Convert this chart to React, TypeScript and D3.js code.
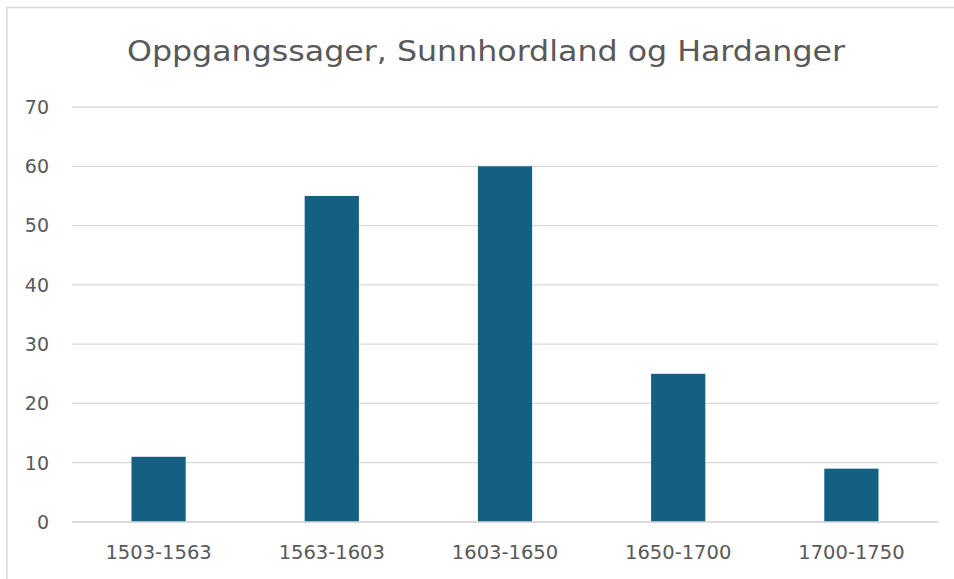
import { useEffect, useRef } from 'react';
import * as d3 from 'd3';

const title = 'Oppgangssager, Sunnhordland og Hardanger';
const categories = ['1503-1563', '1563-1603', '1603-1650', '1650-1700', '1700-1750'];
const values = [11, 55, 60, 25, 9];
const yTicks = [0, 10, 20, 30, 40, 50, 60, 70];

const W = 954;
const H = 579;
const FONT = '"DejaVu Sans", "Noto Sans", sans-serif';

export default function App() {
  const svgRef = useRef<SVGSVGElement>(null);

  useEffect(() => {
    document.body.style.margin = '0';
    if (!svgRef.current) return;
    const svg = d3.select(svgRef.current);
    svg.selectAll('*').remove();

    svg.append('rect').attr('width', W).attr('height', H).attr('fill', '#fff');

    // chart frame (right/bottom edges fall outside the picture)
    svg.append('rect')
      .attr('x', 7).attr('y', 7.5)
      .attr('width', W + 10).attr('height', H + 10)
      .attr('fill', 'none').attr('stroke', '#d9d9d9').attr('stroke-width', 1.5);

    const x = d3.scaleBand<string>().domain(categories).range([72, 938]).paddingInner(0.687).paddingOuter(0.3435);
    const y = d3.scaleLinear().domain([0, 70]).range([522, 107]);

    const t = svg.append('text')
      .attr('x', 486).attr('y', 61)
      .attr('text-anchor', 'middle')
      .attr('font-family', FONT).attr('font-size', 28)
      .attr('fill', '#595959')
      .text(title);
    // fit to the width of the reference title
    t.attr('textLength', 718).attr('lengthAdjust', 'spacingAndGlyphs');

    const grid = svg.append('g');
    grid.selectAll('line')
      .data(yTicks)
      .enter()
      .append('line')
      .attr('x1', 72).attr('x2', 938)
      .attr('y1', (d) => y(d)).attr('y2', (d) => y(d))
      .attr('stroke', '#d9d9d9').attr('stroke-width', 1.3);

    grid.selectAll('text')
      .data(yTicks)
      .enter()
      .append('text')
      .attr('x', 49).attr('y', (d) => y(d))
      .attr('dy', '0.36em')
      .attr('text-anchor', 'end')
      .attr('font-family', FONT).attr('font-size', 19)
      .attr('fill', '#595959')
      .text((d) => d);

    svg.append('g').selectAll('rect')
      .data(values)
      .enter()
      .append('rect')
      .attr('x', (_, i) => x(categories[i]) ?? 0)
      .attr('width', x.bandwidth())
      .attr('y', (d) => y(d))
      .attr('height', (d) => y(0) - y(d))
      .attr('fill', '#156082');

    // baseline on top of bars
    svg.append('line')
      .attr('x1', 72).attr('x2', 938)
      .attr('y1', y(0)).attr('y2', y(0))
      .attr('stroke', '#d9d9d9').attr('stroke-width', 1.3);

    svg.append('g').selectAll('text')
      .data(categories)
      .enter()
      .append('text')
      .attr('x', (d) => (x(d) ?? 0) + x.bandwidth() / 2)
      .attr('y', 552)
      .attr('dy', '0.36em')
      .attr('text-anchor', 'middle')
      .attr('font-family', FONT).attr('font-size', 19.5)
      .attr('fill', '#595959')
      .text((d) => d);
  }, []);

  return <svg ref={svgRef} width={W} height={H} style={{ display: 'block' }} />;
}
